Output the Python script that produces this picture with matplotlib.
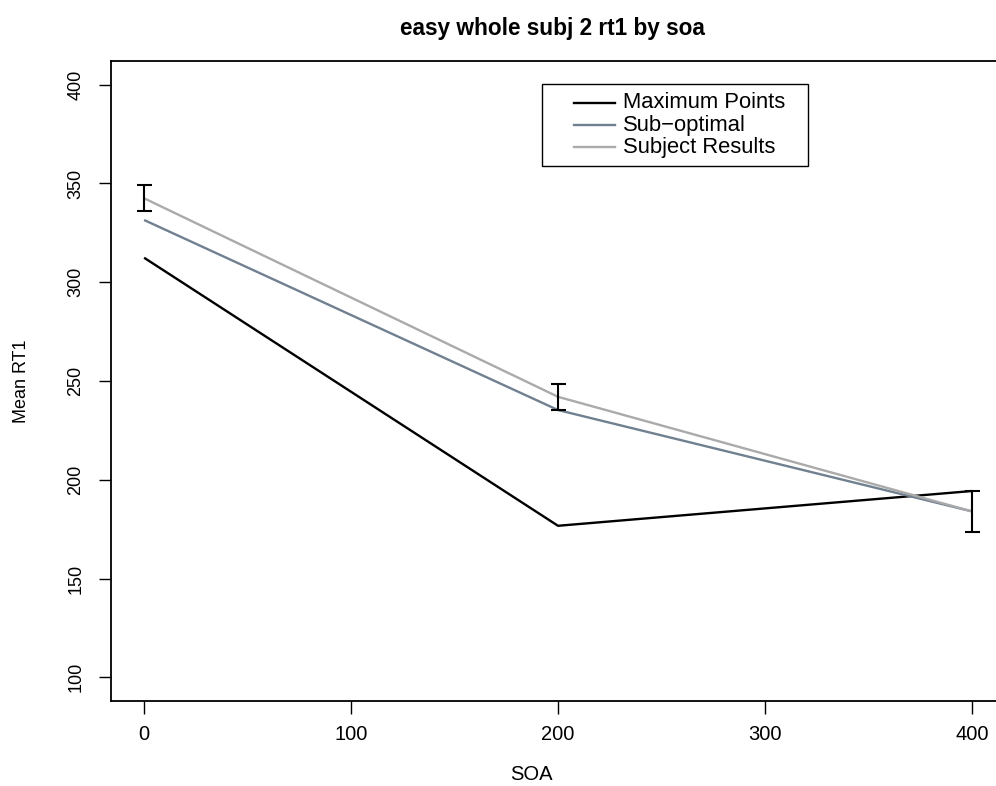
import matplotlib
matplotlib.use("Agg")
import matplotlib.pyplot as plt
from matplotlib.lines import Line2D
from matplotlib.patches import Rectangle

plt.rcParams['font.family'] = ['Liberation Sans', 'DejaVu Sans']

soa = [0, 200, 400]
max_points = [312.4, 176.7, 194.3]
sub_optimal = [331.5, 235.3, 184.0]
subject_results = [342.5, 242.0, 184.0]
subject_err = [6.6, 6.7, 10.5]
series_names = ["Maximum Points", "Sub\u2212optimal", "Subject Results"]
series_colors = ["#000000", "#708090", "#AAAAAA"]
xticks = [0, 100, 200, 300, 400]
yticks = [100, 150, 200, 250, 300, 350, 400]

W, H = 996, 786
fig = plt.figure(figsize=(W / 100, H / 100), dpi=100)

def fx(px):
    return px / W

def fy(py):
    return 1 - py / H

ax = fig.add_axes([fx(111), fy(701), fx(1005) - fx(111), fy(61) - fy(701)])

for vals, col in zip([max_points, sub_optimal, subject_results], series_colors):
    ax.plot(soa, vals, color=col, lw=1.7, solid_capstyle='butt')

ax.errorbar(soa, subject_results, yerr=subject_err, fmt='none', ecolor='black',
            elinewidth=1.5, capsize=5.4, capthick=1.5, zorder=5)

ax.set_xlim(-16, 416)
ax.set_ylim(88, 412)
ax.set_xticks(xticks)
ax.set_yticks(yticks)
ax.set_xticklabels([str(v) for v in xticks], fontsize=14.5)
ax.set_yticklabels([str(v) for v in yticks], fontsize=13, rotation=90, va='center')
ax.tick_params(axis='both', direction='out', length=9, width=1, color='black')
ax.tick_params(axis='x', pad=8.5)
ax.tick_params(axis='y', pad=10)
for s in ax.spines.values():
    s.set_linewidth(1.3)
    s.set_color('black')

fig.text(fx(552), fy(28), "easy whole subj 2 rt1 by soa", fontsize=16.3,
         fontweight='bold', ha='center', va='center')
fig.text(fx(531), fy(774), "SOA", fontsize=14.5, ha='center', va='center')
fig.text(fx(22), fy(381), "Mean RT1", fontsize=13, rotation=90, ha='center', va='center')

# legend box
fig.add_artist(Rectangle((fx(542), fy(166)), fx(808) - fx(542), fy(84) - fy(166),
                         transform=fig.transFigure, facecolor='white',
                         edgecolor='black', lw=1.0, zorder=10))
rows = [103, 125, 147]
for name, col, ry in zip(series_names, series_colors, rows):
    fig.add_artist(Line2D([fx(574), fx(615)], [fy(ry), fy(ry)], color=col, lw=1.7,
                          transform=fig.transFigure, zorder=11))
    fig.text(fx(623), fy(ry), name, fontsize=15.8, ha='left', va='center', zorder=12)

fig.savefig("out.png", dpi=100)
